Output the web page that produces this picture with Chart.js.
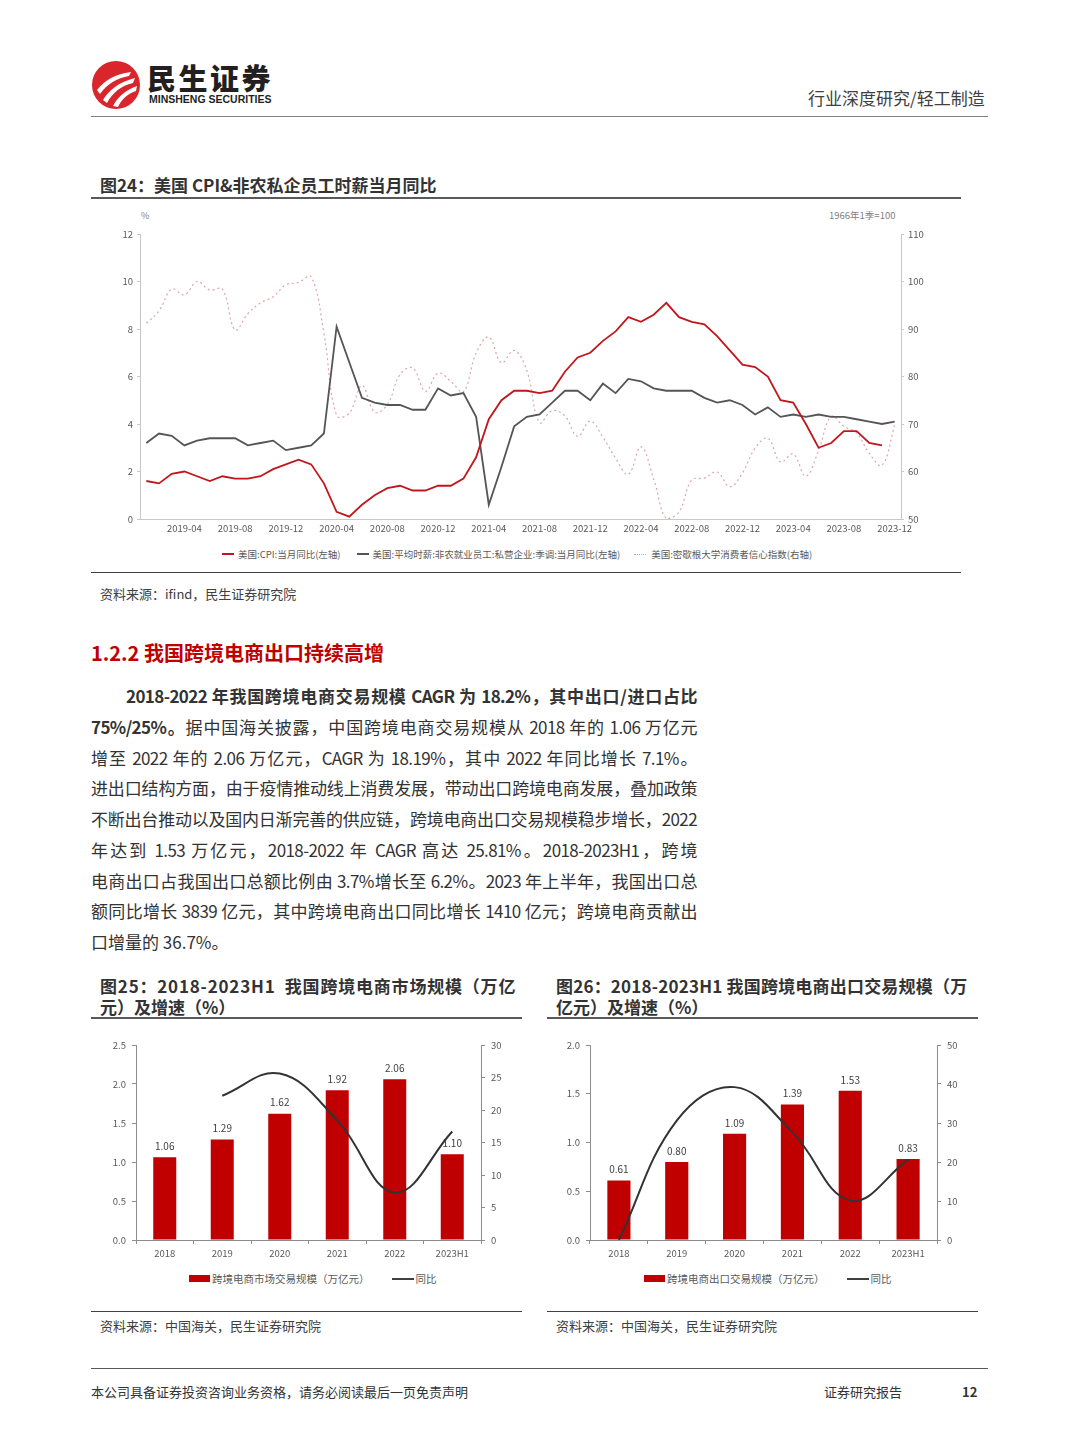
<!DOCTYPE html>
<html>
<head>
<meta charset="utf-8">
<script src="https://cdn.jsdelivr.net/npm/chart.js@4.4.0/dist/chart.umd.min.js"></script>
<style>
  body { margin: 0; background: #fff; font-family: "Noto Sans CJK SC", "Noto Sans", sans-serif; color: #333; }
  #page { position: relative; width: 1080px; height: 1439px; overflow: hidden; background: #fff; }
  .abs { position: absolute; white-space: nowrap; }
  .rule { position: absolute; height: 0; }
  .figtitle { font-size: 17px; font-weight: 700; color: #333; }
  .src { font-size: 13px; color: #404040; }
  .legend { position: absolute; display: flex; align-items: center; color: #595959; white-space: nowrap; }
  .legend .item { display: flex; align-items: center; }
  .para { position: absolute; left: 91px; top: 681px; width: 606px; font-size: 17px; line-height: 30.75px; color: #333; }
  .para div { text-align: justify; text-align-last: justify; height: 30.75px; overflow: visible; letter-spacing: -0.6px; }
  .para div.last { text-align-last: left; letter-spacing: 0; }
  canvas { position: absolute; }
</style>
</head>
<body>
<div id="page">
  <!-- header -->
  <svg class="abs" style="left:91px;top:60px" width="50" height="50" viewBox="0 0 50 50">
    <circle cx="25" cy="25" r="24" fill="#d9262c"/>
    <path d="M6 30 C14 20 24 14 40 12 L38 16 C26 18 16 24 9 34 Z" fill="#fff"/>
    <path d="M12 40 C18 30 28 22 44 18 L42 23 C30 26 22 32 16 43 Z" fill="#fff"/>
    <path d="M22 46 C26 38 34 30 46 26 L45 31 C36 34 30 40 27 47 Z" fill="#fff"/>
  </svg>
  <div class="abs" style="left:147px;top:56px;font-size:29px;font-weight:900;color:#231f20;letter-spacing:2.5px">民生证券</div>
  <div class="abs" style="left:149px;top:93px;font-size:10.5px;font-weight:700;color:#231f20;font-family:'Liberation Sans Narrow','Liberation Sans',sans-serif">MINSHENG SECURITIES</div>
  <div class="abs" style="left:808px;top:85px;font-size:17px;color:#404040">行业深度研究/轻工制造</div>
  <div class="rule" style="left:91px;top:116px;width:897px;border-top:1.5px solid #808080"></div>

  <!-- fig 24 -->
  <div class="abs figtitle" style="left:100px;top:172px">图24：美国 CPI&amp;非农私企员工时薪当月同比</div>
  <div class="rule" style="left:91px;top:197px;width:870px;border-top:2px solid #595959"></div>
  <div class="abs" style="left:141px;top:209px;font-size:9px;color:#7f7f7f">%</div>
  <div class="abs" style="left:829px;top:208px;font-size:9.5px;color:#7f7f7f">1966年1季=100</div>
  <canvas id="c24" width="870" height="340" style="left:91px;top:205px"></canvas>
  <div class="legend" style="left:222px;top:547px;font-size:9.5px">
    <div class="item"><span style="display:inline-block;width:12px;border-top:2px solid #c0161c;margin-right:4px"></span>美国:CPI:当月同比(左轴)</div>
    <div class="item" style="margin-left:16px"><span style="display:inline-block;width:12px;border-top:2px solid #555;margin-right:4px"></span>美国:平均时薪:非农就业员工:私营企业:季调:当月同比(左轴)</div>
    <div class="item" style="margin-left:14px"><span style="display:inline-block;width:12px;border-top:1px dotted #d9a0a5;margin-right:5px"></span>美国:密歇根大学消费者信心指数(右轴)</div>
  </div>
  <div class="rule" style="left:91px;top:572px;width:870px;border-top:1.5px solid #404040"></div>
  <div class="abs src" style="left:100px;top:584px">资料来源：ifind，民生证券研究院</div>

  <!-- section -->
  <div class="abs" style="left:91px;top:638px;font-size:20px;font-weight:700;color:#c00000">1.2.2 我国跨境电商出口持续高增</div>
  <div class="para">
    <div style="padding-left:35px;font-weight:700">2018-2022 年我国跨境电商交易规模 CAGR 为 18.2%，其中出口/进口占比</div>
    <div><b>75%/25%。</b>据中国海关披露，中国跨境电商交易规模从 2018 年的 1.06 万亿元</div>
    <div>增至 2022 年的 2.06 万亿元，CAGR 为 18.19%，其中 2022 年同比增长 7.1%。</div>
    <div>进出口结构方面，由于疫情推动线上消费发展，带动出口跨境电商发展，叠加政策</div>
    <div>不断出台推动以及国内日渐完善的供应链，跨境电商出口交易规模稳步增长，2022</div>
    <div>年达到 1.53 万亿元，2018-2022 年 CAGR 高达 25.81%。2018-2023H1，跨境</div>
    <div>电商出口占我国出口总额比例由 3.7%增长至 6.2%。2023 年上半年，我国出口总</div>
    <div>额同比增长 3839 亿元，其中跨境电商出口同比增长 1410 亿元；跨境电商贡献出</div>
    <div class="last">口增量的 36.7%。</div>
  </div>

  <!-- fig 25 -->
  <div class="abs figtitle" style="left:100px;top:975px;line-height:21px">
    <div style="letter-spacing:0.8px">图25：2018-2023H1&nbsp;&nbsp;我国跨境电商市场规模（万亿</div>
    <div>元）及增速（%）</div>
  </div>
  <div class="rule" style="left:91px;top:1017px;width:431px;border-top:2px solid #595959"></div>
  <canvas id="c25" width="431" height="240" style="left:91px;top:1030px"></canvas>
  <div class="legend" style="left:189px;top:1271px;font-size:10.5px">
    <div class="item"><span style="display:inline-block;width:21px;height:7px;background:#c00000;margin-right:2px"></span>跨境电商市场交易规模（万亿元）</div>
    <div class="item" style="margin-left:22px"><span style="display:inline-block;width:22px;border-top:2px solid #404040;margin-right:2px"></span>同比</div>
  </div>
  <div class="rule" style="left:91px;top:1311px;width:431px;border-top:1.5px solid #404040"></div>
  <div class="abs src" style="left:100px;top:1316px">资料来源：中国海关，民生证券研究院</div>

  <!-- fig 26 -->
  <div class="abs figtitle" style="left:556px;top:975px;line-height:21px">
    <div style="letter-spacing:0.2px">图26：2018-2023H1 我国跨境电商出口交易规模（万</div>
    <div>亿元）及增速（%）</div>
  </div>
  <div class="rule" style="left:547px;top:1017px;width:431px;border-top:2px solid #595959"></div>
  <canvas id="c26" width="431" height="240" style="left:547px;top:1030px"></canvas>
  <div class="legend" style="left:644px;top:1271px;font-size:10.5px">
    <div class="item"><span style="display:inline-block;width:21px;height:7px;background:#c00000;margin-right:2px"></span>跨境电商出口交易规模（万亿元）</div>
    <div class="item" style="margin-left:22px"><span style="display:inline-block;width:22px;border-top:2px solid #404040;margin-right:2px"></span>同比</div>
  </div>
  <div class="rule" style="left:547px;top:1311px;width:431px;border-top:1.5px solid #404040"></div>
  <div class="abs src" style="left:556px;top:1316px">资料来源：中国海关，民生证券研究院</div>

  <!-- footer -->
  <div class="rule" style="left:91px;top:1368px;width:897px;border-top:1px solid #595959"></div>
  <div class="abs" style="left:91px;top:1382px;font-size:13px;color:#333">本公司具备证券投资咨询业务资格，请务必阅读最后一页免责声明</div>
  <div class="abs" style="left:824px;top:1382px;font-size:13px;color:#333">证券研究报告</div>
  <div class="abs" style="left:962px;top:1382px;font-size:13px;font-weight:700;color:#333">12</div>
</div>

<script>
// ---- fig 24 data (monthly, 2019-01 .. 2023-12)
const years24 = ['2019', '2020', '2021', '2022', '2023'];
const monthNums = ['01', '02', '03', '04', '05', '06', '07', '08', '09', '10', '11', '12'];
const monthLabels = [];
years24.forEach(y => monthNums.forEach(m => monthLabels.push(y + '-' + m)));

const cpiYoY = [
    1.6, 1.5, 1.9, 2.0, 1.8, 1.6, 1.8, 1.7, 1.7, 1.8, 2.1, 2.3,
    2.5, 2.3, 1.5, 0.3, 0.1, 0.6, 1.0, 1.3, 1.4, 1.2, 1.2, 1.4,
    1.4, 1.7, 2.6, 4.2, 5.0, 5.4, 5.4, 5.3, 5.4, 6.2, 6.8, 7.0,
    7.5, 7.9, 8.5, 8.3, 8.6, 9.1, 8.5, 8.3, 8.2, 7.7, 7.1, 6.5,
    6.4, 6.0, 5.0, 4.9, 4.0, 3.0, 3.2, 3.7, 3.7, 3.2, 3.1, null
];
const wageYoY = [
    3.2, 3.6, 3.5, 3.1, 3.3, 3.4, 3.4, 3.4, 3.1, 3.2, 3.3, 2.9,
    3.0, 3.1, 3.6, 8.1, 6.6, 5.1, 4.9, 4.8, 4.8, 4.6, 4.6, 5.5,
    5.2, 5.3, 4.3, 0.6, 2.2, 3.9, 4.3, 4.4, 4.9, 5.4, 5.4, 5.0,
    5.7, 5.3, 5.9, 5.8, 5.5, 5.4, 5.4, 5.4, 5.1, 4.9, 5.0, 4.8,
    4.4, 4.7, 4.3, 4.4, 4.3, 4.4, 4.3, 4.3, 4.2, 4.1, 4.0, 4.1
];
const sentiment = [
    91.2, 93.8, 98.4, 97.2, 100.0, 98.2, 98.4, 89.8, 93.2, 95.5, 96.8, 99.3,
    99.8, 101.0, 89.1, 71.8, 72.3, 78.1, 72.5, 74.1, 80.4, 81.8, 76.9, 80.7,
    79.0, 76.8, 84.9, 88.3, 82.9, 85.5, 81.2, 70.3, 72.8, 71.7, 67.4, 70.6,
    67.2, 62.8, 59.4, 65.2, 58.4, 50.0, 51.5, 58.2, 58.6, 59.9, 56.8, 59.7,
    64.9, 67.0, 62.0, 63.7, 59.0, 64.4, 71.6, 69.5, 68.1, 63.8, 61.3, 69.7
];

// ---- fig 25 / 26 data
const years = ['2018', '2019', '2020', '2021', '2022', '2023H1'];
const marketScale = [1.06, 1.29, 1.62, 1.92, 2.06, 1.10];
const marketYoY = [null, 22.2, 25.6, 18.4, 7.3, 16.7];
const exportScale = [0.61, 0.80, 1.09, 1.39, 1.53, 0.83];
const exportYoY = [0, 30.6, 39.2, 27.6, 10.1, 20.6];

const FONT = '"Noto Sans CJK SC", "Noto Sans", sans-serif';
const axisGray = '#c8c8c8';
const tickGray = '#595959';

// top chart
new Chart(document.getElementById('c24'), {
    type: 'line',
    data: {
        labels: monthLabels,
        datasets: [
            { label: '美国:CPI:当月同比(左轴)', data: cpiYoY, borderColor: '#c0161c', borderWidth: 1.8, pointRadius: 0, tension: 0, yAxisID: 'y' },
            { label: '美国:平均时薪:非农就业员工:私营企业:季调:当月同比(左轴)', data: wageYoY, borderColor: '#555555', borderWidth: 1.8, pointRadius: 0, tension: 0, yAxisID: 'y' },
            { label: '美国:密歇根大学消费者信心指数(右轴)', data: sentiment, borderColor: '#dfa3a8', borderWidth: 1.2, borderDash: [2, 3], pointRadius: 0, tension: 0.4, yAxisID: 'y1' }
        ]
    },
    options: {
        responsive: false,
        animation: false,
        layout: { padding: { top: 29, left: 0, right: 0, bottom: 0 } },
        plugins: { legend: { display: false }, tooltip: { enabled: false } },
        scales: {
            x: {
                offset: true,
                grid: { display: false, drawTicks: false, tickLength: 0 },
                border: { color: axisGray },
                ticks: {
                    autoSkip: false, maxRotation: 0, padding: 4,
                    font: { family: FONT, size: 9.5 }, color: tickGray,
                    callback: (v, i) => (i % 4 === 3 ? monthLabels[i] : '')
                },
                afterFit: s => { s.height = 26; }
            },
            y: {
                position: 'left', min: 0, max: 12,
                ticks: { stepSize: 2, padding: 4, font: { family: FONT, size: 9.5 }, color: tickGray },
                grid: { drawOnChartArea: false, tickLength: 3, color: axisGray },
                border: { color: axisGray },
                afterFit: s => { s.width = 49; }
            },
            y1: {
                position: 'right', min: 50, max: 110,
                ticks: { stepSize: 10, padding: 4, font: { family: FONT, size: 9.5 }, color: tickGray },
                grid: { drawOnChartArea: false, tickLength: 3, color: axisGray },
                border: { color: axisGray },
                afterFit: s => { s.width = 60; }
            }
        }
    }
});

// value labels over the bars, drawn before the line so the line sits on top
const barLabels = {
    id: 'barLabels',
    afterDatasetDraw(chart, args) {
        const ds = chart.data.datasets[args.index];
        if (ds.type !== 'bar') return;
        const ctx = chart.ctx;
        ctx.save();
        ctx.font = '10px ' + FONT;
        ctx.fillStyle = '#404040';
        ctx.textAlign = 'center';
        ctx.textBaseline = 'bottom';
        args.meta.data.forEach((bar, i) => {
            ctx.fillText(ds.data[i].toFixed(2), bar.x, bar.y - 6);
        });
        ctx.restore();
    }
};

const makeComboChart = (id, bars, yoy, leftMax, rightMax, rightStep, leftWidth) => {
    new Chart(document.getElementById(id), {
        type: 'bar',
        data: {
            labels: years,
            datasets: [
                { type: 'line', label: '同比', data: yoy, borderColor: '#333333', borderWidth: 2, pointRadius: 0, tension: 0.4, yAxisID: 'y1', order: 0 },
                { type: 'bar', label: '规模', data: bars, backgroundColor: '#c00000', barPercentage: 0.4, categoryPercentage: 1, yAxisID: 'y', order: 1 }
            ]
        },
        options: {
            responsive: false,
            animation: false,
            layout: { padding: { top: 15, left: 0, right: 0, bottom: 0 } },
            plugins: { legend: { display: false }, tooltip: { enabled: false } },
            scales: {
                x: {
                    grid: { drawOnChartArea: false, tickLength: 4, color: '#8c8c8c', offset: true },
                    border: { color: '#8c8c8c' },
                    ticks: { padding: 4, font: { family: FONT, size: 9.5 }, color: tickGray },
                    afterFit: s => { s.height = 30; }
                },
                y: {
                    position: 'left', min: 0, max: leftMax,
                    ticks: { stepSize: 0.5, padding: 6, font: { family: FONT, size: 9.5 }, color: tickGray, callback: v => v.toFixed(1) },
                    grid: { drawOnChartArea: false, tickLength: 4, color: '#8c8c8c' },
                    border: { color: '#8c8c8c' },
                    afterFit: s => { s.width = leftWidth; }
                },
                y1: {
                    position: 'right', min: 0, max: rightMax,
                    ticks: { stepSize: rightStep, padding: 6, font: { family: FONT, size: 9.5 }, color: tickGray },
                    grid: { drawOnChartArea: false, tickLength: 4, color: '#8c8c8c' },
                    border: { color: '#8c8c8c' },
                    afterFit: s => { s.width = 41; }
                }
            }
        },
        plugins: [barLabels]
    });
};

makeComboChart('c25', marketScale, marketYoY, 2.5, 30, 5, 45);
makeComboChart('c26', exportScale, exportYoY, 2.0, 50, 10, 43);
</script>
</body>
</html>
